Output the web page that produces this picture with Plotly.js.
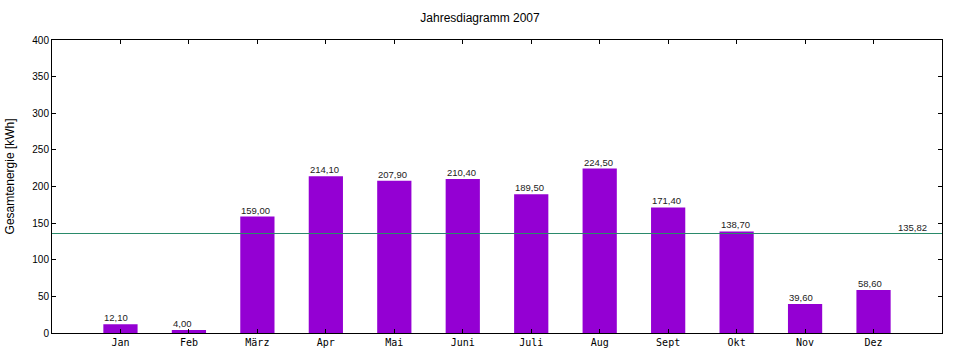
<!DOCTYPE html>
<html>
<head>
<meta charset="utf-8">
<script src="https://cdn.plot.ly/plotly-3.0.1.min.js"></script>
<style>html,body{margin:0;padding:0;background:#fff}#chart{width:960px;height:360px}</style>
</head>
<body>
<div id="chart"></div>
<script>
var months = ["Jan","Feb","März","Apr","Mai","Juni","Juli","Aug","Sept","Okt","Nov","Dez"];
var energy = [12.10, 4.00, 159.00, 214.10, 207.90, 210.40, 189.50, 224.50, 171.40, 138.70, 39.60, 58.60];
var average = 135.82;
var avgLabel = "135,82";

var labelFont = {family: "Liberation Sans, Arial, sans-serif", size: 9.5, color: "#222"};

var trace = {
  type: "bar",
  x: months,
  y: energy,
  width: 0.5,
  marker: {color: "#9400d3", line: {width: 0}},
  hoverinfo: "x+y"
};

var annotations = months.map(function (m, i) {
  return {
    xref: "x", x: m, yref: "y", y: energy[i],
    xanchor: "left", yanchor: "bottom", xshift: -18, yshift: -1,
    text: energy[i].toFixed(2).replace(".", ","),
    showarrow: false, font: labelFont
  };
});
annotations.push({xref: "paper", x: 0.985, xanchor: "right", yref: "y", y: average, yanchor: "bottom",
                  text: avgLabel, showarrow: false, yshift: -1, font: labelFont});
annotations.push({xref: "paper", x: -0.047, xanchor: "center", yref: "paper", y: 0.535, yanchor: "middle",
                  text: "Gesamtenergie [kWh]", textangle: -90, showarrow: false,
                  font: {family: "Liberation Sans, Arial, sans-serif", size: 12, color: "#000"}});

var layout = {
  width: 960, height: 360,
  margin: {l: 52, r: 18, t: 40, b: 27},
  paper_bgcolor: "#fff", plot_bgcolor: "#fff",
  separators: ",.",
  showlegend: false,
  title: {text: "Jahresdiagramm 2007", x: 0.5, xanchor: "center", y: 0.95, yanchor: "middle",
          font: {family: "Liberation Sans, Arial, sans-serif", size: 12, color: "#000"}},
  xaxis: {
    type: "category", range: [-1, 12],
    showline: true, linecolor: "#000", linewidth: 1, mirror: "ticks",
    ticks: "inside", ticklen: 4, tickcolor: "#000",
    showgrid: false, zeroline: false,
    tickfont: {family: "DejaVu Sans Mono, monospace", size: 10, color: "#000"}
  },
  yaxis: {
    range: [0, 400], dtick: 50,
    showline: true, linecolor: "#000", linewidth: 1, mirror: "ticks",
    ticks: "inside", ticklen: 4, tickcolor: "#000",
    showgrid: false, zeroline: false,
    tickfont: {family: "Liberation Sans, Arial, sans-serif", size: 10, color: "#000"}
  },
  shapes: [{type: "line", xref: "paper", x0: 0, x1: 1, yref: "y", y0: average, y1: average,
            line: {color: "#2a8a6a", width: 1}}],
  annotations: annotations
};

Plotly.newPlot("chart", [trace], layout, {displayModeBar: false, staticPlot: true});
</script>
</body>
</html>
